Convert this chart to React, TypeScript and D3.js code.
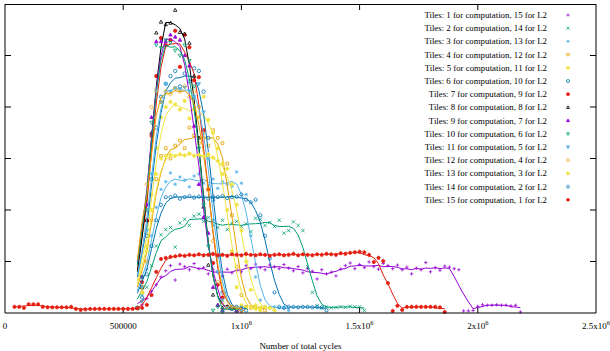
import React, { useEffect, useRef } from 'react';
import * as d3 from 'd3';

// sampling interval of the traces (cycles)
const STEP = 20000;

const labels = [
  'Tiles: 1 for computation, 15 for L2',
  'Tiles: 2 for computation, 14 for L2',
  'Tiles: 3 for computation, 13 for L2',
  'Tiles: 4 for computation, 12 for L2',
  'Tiles: 5 for computation, 11 for L2',
  'Tiles: 6 for computation, 10 for L2',
  'Tiles: 7 for computation, 9 for L2',
  'Tiles: 8 for computation, 8 for L2',
  'Tiles: 9 for computation, 7 for L2',
  'Tiles: 10 for computation, 6 for L2',
  'Tiles: 11 for computation, 5 for L2',
  'Tiles: 12 for computation, 4 for L2',
  'Tiles: 13 for computation, 3 for L2',
  'Tiles: 14 for computation, 2 for L2',
  'Tiles: 15 for computation, 1 for L2',
];

// first sample (cycles) of each trace
const starts = [
  560000, 560000, 560000, 560000, 560000, 560000, 560000, 560000,
  560000, 560000, 560000, 560000, 560000, 560000, 40000,
];

const s1 = [
  0.10, 0.16, 0.28, 0.42, 0.55, 0.70, 0.82, 0.92, 0.64, 0.95,
  0.90, 0.84, 0.96, 0.86, 0.88, 0.76, 0.84, 0.79, 0.72, 0.85,
  0.78, 0.82, 0.80, 0.92, 0.86, 0.95, 0.88, 0.84, 0.93, 0.90,
  0.86, 0.94, 0.87, 0.82, 0.90, 0.78, 0.86, 0.81, 0.66, 0.84,
  0.76, 0.79, 0.72, 0.85, 0.92, 0.97, 0.86, 0.94, 0.88, 0.99,
  0.90, 0.85, 0.96, 0.92, 0.86, 0.93, 0.84, 0.89, 0.76, 0.87,
  0.84, 0.98, 0.80, 0.88, 0.83, 0.91, 0.89, 0.86, 0.84, 0.04,
  0.04, 0.05, 0.13, 0.16, 0.15, 0.15, 0.16, 0.15, 0.15, 0.14,
  0.15, 0.02,
];
const s2 = [
  0.10, 0.22, 0.50, 0.92, 1.30, 1.52, 1.62, 1.66, 1.28, 1.75,
  1.82, 1.70, 1.88, 1.92, 1.78, 1.85, 1.70, 1.66, 1.80, 1.62,
  1.74, 1.78, 1.68, 1.73, 1.58, 1.84, 1.82, 1.70, 1.76, 1.68,
  1.80, 1.55, 1.60, 1.77, 1.70, 1.60, 0.90, 0.40, 0.14, 0.10,
  0.12, 0.10, 0.11, 0.12, 0.11, 0.13, 0.12, 0.12, 0.05,
];
const s3 = [
  0.10, 0.35, 0.85, 1.50, 2.05, 2.40, 2.55, 2.72, 2.50, 2.64,
  2.58, 2.45, 2.66, 2.70, 2.52, 2.48, 2.60, 2.42, 2.55, 2.50,
  2.46, 2.74, 2.52, 2.30, 1.50, 0.70, 0.25, 0.12, 0.10, 0.12,
  0.10, 0.11, 0.05,
];
const s4 = [
  0.10, 0.40, 1.00, 1.80, 2.60, 3.05, 3.20, 3.00, 3.25, 3.35,
  3.20, 3.60, 3.45, 3.30, 3.50, 3.25, 3.55, 3.40, 3.30, 2.90,
  1.90, 0.90, 0.35, 0.12, 0.10, 0.12, 0.10, 0.05,
];
const s5 = [
  0.10, 0.50, 1.30, 2.30, 3.20, 3.80, 4.00, 4.10, 4.05, 3.95,
  4.12, 3.78, 3.95, 3.80, 4.20, 3.75, 3.50, 3.20, 2.70, 2.00,
  1.20, 0.50, 0.15, 0.10, 0.12, 0.08, 0.05,
];
const s6 = [
  0.10, 0.50, 1.50, 2.60, 3.60, 4.20, 4.45, 4.60, 4.70, 4.40,
  4.65, 4.50, 4.75, 4.70, 4.30, 3.40, 2.20, 1.10, 0.40, 0.12,
  0.10, 0.12, 0.10, 0.05,
];
const s7 = [
  0.10, 0.60, 1.80, 3.44, 4.60, 5.34, 5.20, 5.30, 5.48, 4.78,
  5.40, 5.16, 4.52, 4.58, 3.55, 2.40, 0.97, 0.55, 0.30, 0.12,
  0.10, 0.08, 0.05,
];
const s8 = [
  0.10, 0.50, 1.80, 3.50, 5.44, 5.65, 5.60, 5.63, 5.88, 5.45,
  5.42, 5.24, 4.60, 3.40, 2.06, 0.93, 0.35, 0.15, 0.10, 0.12,
  0.10, 0.05,
];
const s9 = [
  0.10, 0.70, 2.10, 3.80, 5.27, 5.27, 5.27, 5.40, 5.36, 5.30,
  5.00, 4.80, 3.63, 2.50, 1.86, 1.55, 0.50, 0.15, 0.05, 0.10,
  0.08, 0.04,
];
const s10 = [
  0.10, 0.70, 2.00, 3.70, 5.20, 5.15, 5.30, 5.25, 5.10, 5.00,
  5.20, 4.90, 4.40, 3.20, 2.10, 1.30, 0.05, 0.12, 0.02, 0.10,
  0.08, 0.05,
];
const s11 = [
  0.10, 0.50, 1.60, 2.70, 4.31, 4.10, 4.45, 4.30, 4.37, 4.35,
  4.38, 4.30, 4.20, 4.45, 3.90, 3.00, 1.80, 0.80, 0.25, 0.10,
  0.12, 0.10, 0.05,
];
const s12 = [
  0.10, 0.50, 2.50, 4.00, 4.30, 4.10, 4.30, 4.25, 4.35, 4.30,
  4.40, 4.20, 4.30, 4.00, 3.40, 2.40, 1.40, 0.60, 0.20, 0.10,
  0.12, 0.10, 0.05,
];
const s13 = [
  0.10, 0.40, 1.20, 2.00, 2.70, 3.00, 3.05, 3.07, 3.05, 3.08,
  3.06, 3.10, 3.05, 3.07, 3.04, 3.08, 3.02, 2.95, 2.90, 2.80,
  2.50, 2.10, 1.60, 1.00, 0.45, 0.15, 0.10, 0.12, 0.10, 0.05,
];
const s14 = [
  0.10, 0.30, 0.75, 1.30, 1.80, 2.10, 2.25, 2.25, 2.28, 2.22,
  2.25, 2.27, 2.24, 2.26, 2.25, 2.22, 2.26, 2.25, 2.27, 2.23,
  2.25, 2.26, 2.30, 2.20, 2.15, 2.20, 1.90, 1.50, 1.06, 0.40,
  0.12, 0.10, 0.12, 0.12, 0.11, 0.12, 0.12, 0.11, 0.12, 0.11,
  0.05,
];
const s15 = [
  0.12, 0.12, 0.10, 0.17, 0.17, 0.17, 0.12, 0.11, 0.11, 0.11,
  0.11, 0.11, 0.12, 0.08, 0.06, 0.07, 0.08, 0.08, 0.08, 0.08,
  0.08, 0.08, 0.08, 0.08, 0.08, 0.08, 0.09, 0.10, 0.16, 0.35,
  0.80, 1.05, 1.07, 1.09, 1.10, 1.12, 1.11, 1.13, 1.12, 1.14,
  1.12, 1.13, 1.15, 1.12, 1.13, 1.11, 1.14, 1.13, 1.12, 1.15,
  1.13, 1.12, 1.14, 1.13, 1.11, 1.13, 1.14, 1.12, 1.13, 1.15,
  1.12, 1.14, 1.13, 1.12, 1.14, 1.13, 1.15, 1.14, 1.13, 1.16,
  1.15, 1.17, 1.18, 1.19, 1.18, 1.13, 0.99, 1.07, 1.01, 0.58,
  0.04, 0.14, 0.06, 0.12, 0.12, 0.12, 0.12, 0.12, 0.12, 0.12,
  0.11, 0.02,
];
const series = [s1, s2, s3, s4, s5, s6, s7, s8, s9, s10, s11, s12, s13, s14, s15];

const xTicks = [0, 500000, 1000000, 1500000, 2000000, 2500000];
const xTickText = [['0', ''], ['500000', ''], ['1x10', '6'], ['1.5x10', '6'], ['2x10', '6'], ['2.5x10', '6']];
const yTicks = [1, 2, 3, 4, 5];

// gnuplot default line colours, cycling every 8
const colors = ['#9400d3', '#009e73', '#56b4e9', '#e69f00', '#f0e442', '#0072b2', '#e51e10', '#000000'];
const markers = ['plus', 'cross', 'star', 'square', 'squareF', 'circle', 'circleF', 'tri', 'triF',
  'triD', 'triDF', 'diamond', 'diamondF', 'pent', 'pentF'];

const markerPath = (m: string, s: number) => {
  const base = m.replace(/F$/, '');
  switch (base) {
    case 'plus': return `M${-s},0H${s}M0,${-s}V${s}`;
    case 'cross': return `M${-s},${-s}L${s},${s}M${-s},${s}L${s},${-s}`;
    case 'star': return `M${-s},0H${s}M0,${-s}V${s}M${-s * 0.75},${-s * 0.75}L${s * 0.75},${s * 0.75}M${-s * 0.75},${s * 0.75}L${s * 0.75},${-s * 0.75}`;
    case 'square': return `M${-s * 0.8},${-s * 0.8}H${s * 0.8}V${s * 0.8}H${-s * 0.8}Z`;
    case 'circle': return `M${s},0A${s},${s} 0 1,1 ${-s},0A${s},${s} 0 1,1 ${s},0Z`;
    case 'tri': return `M0,${-s * 1.1}L${s},${s * 0.7}L${-s},${s * 0.7}Z`;
    case 'triD': return `M0,${s * 1.1}L${s},${-s * 0.7}L${-s},${-s * 0.7}Z`;
    case 'diamond': return `M0,${-s * 1.2}L${s * 1.2},0L0,${s * 1.2}L${-s * 1.2},0Z`;
    case 'pent': {
      const p = d3.range(5).map(i => {
        const a = -Math.PI / 2 + i * 2 * Math.PI / 5;
        return [s * 1.05 * Math.cos(a), s * 1.05 * Math.sin(a)];
      });
      return 'M' + p.map(q => q.join(',')).join('L') + 'Z';
    }
    default: return '';
  }
};

const FONT = "'Liberation Serif', 'Times New Roman', serif";

const CyclesChart = () => {
  const ref = useRef<SVGSVGElement>(null);

  useEffect(() => {
    const svg = d3.select(ref.current);
    svg.selectAll('*').remove();

    const x = d3.scaleLinear().domain([0, 2500000]).range([5, 596]);
    const y = d3.scaleLinear().domain([0, 6]).range([313, 4]);

    // tick marks (inward, mirrored)
    const ticks = svg.append('g').attr('stroke', '#000').attr('stroke-width', 1);
    xTicks.slice(1, -1).forEach(t => {
      ticks.append('line').attr('x1', x(t)).attr('x2', x(t)).attr('y1', y(0)).attr('y2', y(0) - 6);
      ticks.append('line').attr('x1', x(t)).attr('x2', x(t)).attr('y1', y(6)).attr('y2', y(6) + 6);
    });
    yTicks.forEach(t => {
      ticks.append('line').attr('x1', x(0)).attr('x2', x(0) + 6).attr('y1', y(t)).attr('y2', y(t));
      ticks.append('line').attr('x1', x(2500000)).attr('x2', x(2500000) - 6).attr('y1', y(t)).attr('y2', y(t));
    });

    // x tick labels
    xTicks.forEach((t, i) => {
      const txt = svg.append('text')
        .attr('x', x(t))
        .attr('y', 329)
        .attr('text-anchor', 'middle')
        .style('font-family', FONT)
        .style('font-size', '9px')
        .text(xTickText[i][0]);
      if (xTickText[i][1]) {
        txt.append('tspan').attr('dy', -4).style('font-size', '6.5px').text(xTickText[i][1]);
      }
    });

    svg.append('text')
      .attr('x', (x(0) + x(2500000)) / 2)
      .attr('y', 349)
      .attr('text-anchor', 'middle')
      .style('font-family', FONT)
      .style('font-size', '9px')
      .text('Number of total cycles');

    // data: running mean line + raw samples
    series.forEach((vals, k) => {
      const pts = vals.map((v, i) => ({ c: starts[k] + i * STEP, v }));
      const avg = pts.map((p, i) => ({
        c: p.c,
        v: d3.mean(pts.slice(Math.max(0, i - 2), i + 3), d => d.v) as number,
      }));
      const color = colors[k % 8];
      const filled = markers[k].endsWith('F');

      svg.append('path')
        .datum(avg)
        .attr('fill', 'none')
        .attr('stroke', color)
        .attr('stroke-width', 1)
        .attr('d', d3.line<{ c: number; v: number }>().x(d => x(d.c)).y(d => y(d.v)));

      svg.append('g')
        .selectAll('path')
        .data(pts)
        .join('path')
        .attr('transform', d => `translate(${x(d.c)},${y(d.v)})`)
        .attr('d', markerPath(markers[k], 1.7))
        .attr('fill', filled ? color : 'none')
        .attr('stroke', color)
        .attr('stroke-width', 0.8);
    });

    // border
    const border = svg.append('g').attr('stroke', '#000').attr('stroke-width', 1).attr('fill', 'none');
    border.append('line').attr('x1', x(0)).attr('x2', x(2500000)).attr('y1', 4.5).attr('y2', 4.5);
    border.append('path').attr('d', `M${x(0)},4V${y(0)}H${x(2500000)}V4`);

    // legend
    const legend = svg.append('g');
    labels.forEach((lab, i) => {
      const ly = 15 + i * 13.2;
      legend.append('text')
        .attr('x', 547)
        .attr('y', ly + 3)
        .attr('text-anchor', 'end')
        .style('font-family', FONT)
        .style('font-size', '8.8px')
        .text(lab);
      const color = colors[i % 8];
      legend.append('path')
        .attr('transform', `translate(568,${ly})`)
        .attr('d', markerPath(markers[i], 1.5))
        .attr('fill', markers[i].endsWith('F') ? color : 'none')
        .attr('stroke', color)
        .attr('stroke-width', 0.8);
    });
  }, []);

  return <svg ref={ref} width={610} height={351} style={{ position: 'absolute', left: 0, top: 0, background: '#fff' }} />;
};

export default function App() {
  return <CyclesChart />;
}
